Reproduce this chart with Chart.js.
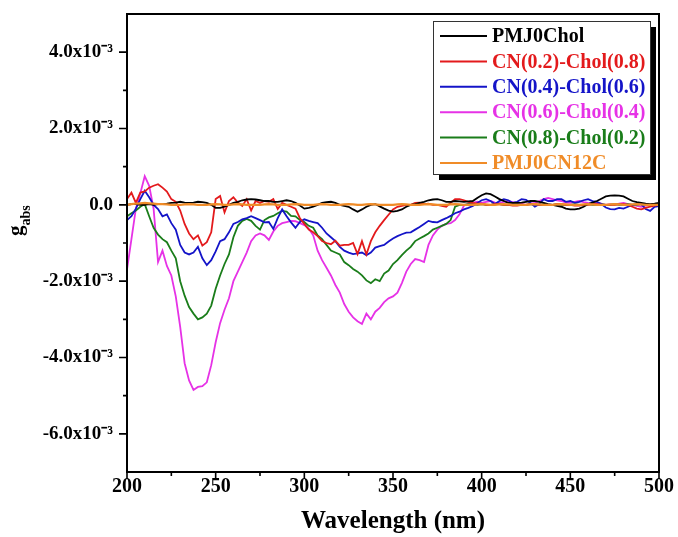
<!DOCTYPE html>
<html>
<head>
<meta charset="utf-8">
<script src="https://cdn.jsdelivr.net/npm/chart.js@4.4.1/dist/chart.umd.min.js"></script>
<style>
  html, body { margin: 0; padding: 0; background: #fff; }
  #wrap { width: 678px; height: 537px; }
</style>
</head>
<body>
<div id="wrap"><canvas id="gabsChart" width="678" height="537"></canvas></div>
<script>
// wavelength, nm
const wavelengths = [
  200, 202.5, 205, 207.5, 210, 212.5, 215, 217.5, 220, 222.5,
  225, 227.5, 230, 232.5, 235, 237.5, 240, 242.5, 245, 247.5,
  250, 252.5, 255, 257.5, 260, 262.5, 265, 267.5, 270, 272.5,
  275, 277.5, 280, 282.5, 285, 287.5, 290, 292.5, 295, 297.5,
  300, 302.5, 305, 307.5, 310, 312.5, 315, 317.5, 320, 322.5,
  325, 327.5, 330, 332.5, 335, 337.5, 340, 342.5, 345, 347.5,
  350, 352.5, 355, 357.5, 360, 362.5, 365, 367.5, 370, 372.5,
  375, 377.5, 380, 382.5, 385, 387.5, 390, 392.5, 395, 397.5,
  400, 402.5, 405, 407.5, 410, 412.5, 415, 417.5, 420, 422.5,
  425, 427.5, 430, 432.5, 435, 437.5, 440, 442.5, 445, 447.5,
  450, 452.5, 455, 457.5, 460, 462.5, 465, 467.5, 470, 472.5,
  475, 477.5, 480, 482.5, 485, 487.5, 490, 492.5, 495, 497.5,
  500
];

// g_abs values in units of 1e-3
const pmj0Chol = [
  0.00, 0.02, 0.02, 0.00, 0.00, 0.02, 0.00, 0.02, 0.02, 0.03,
  0.05, 0.06, 0.08, 0.06, 0.05, 0.06, 0.08, 0.07, 0.05, 0.00,
  -0.08, -0.08, -0.05, 0.00, 0.05, 0.08, 0.12, 0.14, 0.15, 0.14,
  0.12, 0.10, 0.10, 0.08, 0.08, 0.10, 0.12, 0.10, 0.05, -0.02,
  -0.10, -0.08, -0.05, 0.00, 0.05, 0.07, 0.08, 0.05, 0.00, -0.03,
  -0.05, -0.12, -0.18, -0.12, -0.05, 0.00, 0.02, -0.04, -0.10, -0.15,
  -0.18, -0.16, -0.12, -0.05, 0.00, 0.02, 0.05, 0.08, 0.12, 0.14,
  0.15, 0.12, 0.08, 0.08, 0.10, 0.09, 0.08, 0.09, 0.10, 0.18,
  0.25, 0.30, 0.28, 0.22, 0.15, 0.10, 0.05, 0.05, 0.05, 0.06,
  0.08, 0.10, 0.10, 0.08, 0.05, 0.02, 0.00, -0.03, -0.05, -0.10,
  -0.12, -0.12, -0.10, -0.05, 0.02, 0.06, 0.10, 0.16, 0.22, 0.24,
  0.25, 0.24, 0.22, 0.16, 0.10, 0.07, 0.05, 0.03, 0.02, 0.03,
  0.05
];
const cn02Chol08 = [
  0.15, 0.32, 0.05, 0.32, 0.35, 0.45, 0.50, 0.54, 0.45, 0.35,
  0.15, 0.08, -0.15, -0.50, -0.75, -0.90, -0.80, -1.07, -0.98, -0.72,
  0.15, 0.23, -0.20, 0.10, 0.20, 0.06, -0.03, 0.15, -0.15, 0.10,
  0.05, 0.10, 0.08, 0.15, -0.11, 0.05, 0.00, -0.05, -0.10, -0.35,
  -0.50, -0.65, -0.72, -0.82, -0.95, -1.00, -1.03, -0.94, -1.07, -1.05,
  -1.05, -1.00, -1.29, -0.95, -1.30, -0.95, -0.72, -0.55, -0.40, -0.26,
  -0.12, -0.05, -0.03, 0.00, 0.00, 0.05, 0.06, 0.02, 0.03, 0.00,
  0.00, -0.03, -0.05, 0.05, 0.15, 0.15, 0.12, 0.08, 0.05, 0.03,
  0.03, 0.00, 0.00, 0.02, 0.02, 0.00, 0.00, -0.02, -0.02, 0.00,
  0.00, 0.02, 0.02, 0.00, 0.00, 0.00, 0.00, 0.02, 0.02, 0.00,
  0.00, -0.02, -0.02, 0.00, 0.00, 0.02, 0.02, 0.00, 0.00, 0.00,
  0.00, 0.02, 0.02, 0.00, -0.05, -0.10, -0.12, -0.08, -0.05, -0.02,
  0.00
];
const cn04Chol06 = [
  -0.40, -0.30, -0.10, 0.15, 0.37, 0.20, 0.00, -0.11, -0.30, -0.25,
  -0.48, -0.65, -1.05, -1.25, -1.30, -1.25, -1.10, -1.40, -1.58, -1.45,
  -1.22, -0.95, -0.90, -0.72, -0.50, -0.45, -0.38, -0.35, -0.30, -0.35,
  -0.40, -0.46, -0.45, -0.63, -0.35, -0.12, -0.30, -0.46, -0.60, -0.45,
  -0.38, -0.42, -0.45, -0.48, -0.60, -0.75, -0.85, -0.95, -1.10, -1.20,
  -1.25, -1.29, -1.27, -1.25, -1.32, -1.25, -1.12, -1.08, -1.05, -0.96,
  -0.88, -0.82, -0.77, -0.73, -0.72, -0.65, -0.58, -0.50, -0.42, -0.45,
  -0.46, -0.40, -0.35, -0.29, -0.22, -0.18, -0.12, -0.08, -0.03, 0.05,
  0.12, 0.15, 0.10, 0.02, 0.10, 0.15, 0.12, 0.05, 0.08, 0.15,
  0.13, 0.05, -0.05, 0.02, 0.15, 0.10, 0.10, 0.15, 0.15, 0.08,
  0.10, 0.05, 0.08, 0.12, 0.15, 0.10, 0.08, 0.02, -0.07, -0.11,
  -0.12, -0.08, -0.10, -0.05, 0.00, 0.02, 0.02, -0.11, -0.16, -0.05,
  -0.03
];
const cn06Chol04 = [
  -1.70, -0.90, -0.10, 0.30, 0.75, 0.50, -0.10, -1.50, -1.20, -1.60,
  -1.85, -2.40, -3.20, -4.15, -4.60, -4.85, -4.77, -4.75, -4.65, -4.20,
  -3.60, -3.10, -2.75, -2.45, -2.00, -1.75, -1.50, -1.25, -0.95, -0.80,
  -0.75, -0.80, -0.92, -0.70, -0.55, -0.48, -0.45, -0.42, -0.43, -0.48,
  -0.53, -0.62, -0.80, -1.20, -1.45, -1.65, -1.85, -2.10, -2.30, -2.60,
  -2.80, -2.95, -3.05, -3.12, -2.85, -3.00, -2.80, -2.70, -2.55, -2.45,
  -2.40, -2.30, -2.05, -1.75, -1.55, -1.42, -1.45, -1.50, -1.05, -0.80,
  -0.65, -0.55, -0.50, -0.48, -0.40, -0.25, -0.02, 0.03, 0.05, 0.08,
  0.05, 0.08, 0.10, 0.06, 0.05, 0.08, 0.10, 0.07, 0.05, 0.03,
  0.00, 0.03, 0.05, 0.10, 0.15, 0.18, 0.15, 0.12, 0.10, 0.06,
  0.05, 0.08, 0.10, 0.07, 0.05, 0.04, 0.05, 0.03, 0.00, 0.02,
  0.00, 0.03, 0.05, 0.02, 0.00, -0.03, -0.05, -0.02, 0.00, 0.02,
  0.00
];
const cn08Chol02 = [
  -0.30, -0.22, -0.15, -0.05, 0.02, -0.30, -0.60, -0.78, -0.90, -0.98,
  -1.20, -1.40, -2.00, -2.38, -2.68, -2.85, -3.00, -2.95, -2.85, -2.64,
  -2.20, -1.85, -1.55, -1.30, -0.85, -0.55, -0.42, -0.37, -0.42, -0.55,
  -0.65, -0.40, -0.33, -0.29, -0.22, -0.16, -0.18, -0.29, -0.30, -0.40,
  -0.45, -0.55, -0.60, -0.80, -0.90, -1.05, -1.20, -1.25, -1.30, -1.50,
  -1.58, -1.68, -1.75, -1.85, -1.98, -2.05, -1.95, -2.00, -1.80, -1.72,
  -1.55, -1.45, -1.32, -1.20, -1.10, -0.95, -0.88, -0.82, -0.75, -0.65,
  -0.60, -0.55, -0.50, -0.40, -0.05, 0.00, 0.00, 0.02, 0.02, 0.00,
  0.02, 0.00, 0.00, 0.02, 0.02, 0.00, 0.00, 0.02, 0.02, 0.00,
  0.00, 0.02, 0.00, 0.00, 0.02, 0.00, 0.00, 0.02, 0.00, 0.00,
  0.00, 0.02, 0.00, 0.00, 0.02, 0.00, 0.00, 0.02, 0.00, 0.00,
  0.02, 0.00, 0.00, 0.02, 0.00, 0.00, 0.02, 0.00, 0.00, 0.02,
  0.00
];
const pmj0CN12C = [
  0.00, 0.02, 0.03, 0.04, 0.05, 0.04, 0.03, 0.02, 0.02, 0.01,
  0.00, 0.00, 0.00, 0.01, 0.02, 0.01, 0.00, 0.00, 0.00, 0.01,
  0.02, 0.01, 0.00, 0.00, 0.01, 0.02, 0.01, 0.00, 0.00, 0.00,
  0.00, 0.01, 0.02, 0.01, 0.00, 0.00, 0.00, 0.01, 0.02, 0.01,
  0.00, 0.00, 0.00, 0.01, 0.02, 0.01, 0.00, 0.00, 0.00, 0.01,
  0.02, 0.01, 0.00, 0.00, 0.01, 0.02, 0.01, 0.00, 0.00, 0.00,
  0.00, 0.01, 0.02, 0.01, 0.00, 0.00, 0.00, 0.01, 0.02, 0.01,
  0.00, 0.00, 0.00, 0.01, 0.02, 0.01, 0.00, 0.00, 0.00, 0.01,
  0.02, 0.01, 0.00, 0.00, 0.01, 0.02, 0.01, 0.00, 0.00, 0.00,
  0.00, 0.01, 0.02, 0.01, 0.00, 0.00, 0.00, 0.01, 0.02, 0.01,
  0.00, 0.00, 0.00, 0.01, 0.02, 0.01, 0.00, 0.00, 0.00, 0.01,
  0.02, 0.01, 0.00, 0.00, 0.01, 0.02, 0.01, 0.00, 0.00, 0.00,
  0.00
];

const seriesNames = ['PMJ0Chol', 'CN(0.2)-Chol(0.8)', 'CN(0.4)-Chol(0.6)', 'CN(0.6)-Chol(0.4)', 'CN(0.8)-Chol(0.2)', 'PMJ0CN12C'];
const seriesValues = [pmj0Chol, cn02Chol08, cn04Chol06, cn06Chol04, cn08Chol02, pmj0CN12C];
const seriesColors = ['#000000', '#e31a1c', '#1414c8', '#e632e6', '#1a7d1a', '#f08c28'];
// lower order is drawn on top
const seriesOrder = [1, 2, 3, 5, 4, 0];

const xTicks = [200, 250, 300, 350, 400, 450, 500];
const xMinorTicks = [225, 275, 325, 375, 425, 475];
const yTicks = [-6, -4, -2, 0, 2, 4];
const yMinorTicks = [-5, -3, -1, 1, 3];

const serif = "'Liberation Serif', 'Times New Roman', serif";

// рамка, засечки, легенда и подпись оси Y
const decorPlugin = {
    id: 'decor',
    afterDatasetsDraw(chart) {
        const ctx = chart.ctx;
        const a = chart.chartArea;
        const xs = chart.scales.x;
        const ys = chart.scales.y;
        ctx.save();
        ctx.strokeStyle = '#000';
        ctx.lineWidth = 2;
        ctx.strokeRect(a.left, a.top, a.right - a.left, a.bottom - a.top);

        ctx.lineWidth = 1.6;
        ctx.beginPath();
        yTicks.forEach(v => { const y = ys.getPixelForValue(v); ctx.moveTo(a.left - 8, y); ctx.lineTo(a.left, y); });
        yMinorTicks.forEach(v => { const y = ys.getPixelForValue(v); ctx.moveTo(a.left - 4, y); ctx.lineTo(a.left, y); });
        xTicks.forEach(v => { const x = xs.getPixelForValue(v); ctx.moveTo(x, a.bottom); ctx.lineTo(x, a.bottom + 7); });
        xMinorTicks.forEach(v => { const x = xs.getPixelForValue(v); ctx.moveTo(x, a.bottom); ctx.lineTo(x, a.bottom + 4); });
        ctx.stroke();

        // легенда с тенью
        const bx = a.right - 226, by = a.top + 7, bw = 217, bh = 153;
        ctx.fillStyle = '#000';
        ctx.fillRect(bx + 6, by + 6, bw, bh);
        ctx.fillStyle = '#fff';
        ctx.fillRect(bx, by, bw, bh);
        ctx.lineWidth = 1;
        ctx.strokeStyle = '#333';
        ctx.strokeRect(bx + 0.5, by + 0.5, bw, bh);
        ctx.font = 'bold 20px ' + serif;
        ctx.textBaseline = 'middle';
        ctx.textAlign = 'left';
        seriesNames.forEach((name, i) => {
            const y = by + 15 + i * 25.4;
            ctx.strokeStyle = seriesColors[i];
            ctx.lineWidth = 2;
            ctx.beginPath();
            ctx.moveTo(bx + 7, y);
            ctx.lineTo(bx + 54, y);
            ctx.stroke();
            ctx.fillStyle = seriesColors[i];
            ctx.fillText(name, bx + 59, y + 1);
        });

        // g_abs
        ctx.translate(22, 236);
        ctx.rotate(-Math.PI / 2);
        ctx.fillStyle = '#000';
        ctx.textBaseline = 'alphabetic';
        ctx.font = 'bold 21px ' + serif;
        ctx.fillText('g', 0, 0);
        const gw = ctx.measureText('g').width;
        ctx.font = 'bold 14px ' + serif;
        ctx.fillText('abs', gw, 8);
        ctx.restore();
    }
};

const ctx = document.getElementById('gabsChart').getContext('2d');

new Chart(ctx, {
    type: 'line',
    data: {
        datasets: seriesNames.map((name, i) => ({
            label: name,
            data: wavelengths.map((w, k) => ({ x: w, y: seriesValues[i][k] })),
            borderColor: seriesColors[i],
            borderWidth: i === 5 ? 2.2 : 1.8,
            pointRadius: 0,
            tension: 0,
            fill: false,
            order: seriesOrder[i]
        }))
    },
    options: {
        responsive: false,
        animation: false,
        devicePixelRatio: 1,
        layout: { padding: { top: 14, right: 19, left: 0, bottom: 0 } },
        plugins: {
            legend: { display: false },
            tooltip: { enabled: false }
        },
        scales: {
            x: {
                type: 'linear',
                min: 200,
                max: 500,
                afterBuildTicks: s => { s.ticks = xTicks.map(v => ({ value: v })); },
                afterFit: s => {
                    s.height = 65;
                    s.paddingLeft = 0;
                    s.paddingRight = 0;
                },
                grid: { display: false, drawTicks: false },
                border: { display: false },
                ticks: {
                    color: '#000',
                    padding: 3,
                    maxRotation: 0,
                    font: { family: serif, size: 20, weight: 'bold' }
                },
                title: {
                    display: true,
                    text: 'Wavelength (nm)',
                    color: '#000',
                    padding: { top: 0, bottom: 0 },
                    font: { family: serif, size: 25, weight: 'bold' }
                }
            },
            y: {
                min: -7,
                max: 5,
                afterBuildTicks: s => { s.ticks = yTicks.map(v => ({ value: v })); },
                afterFit: s => {
                    s.width = 127;
                    s.paddingTop = 0;
                    s.paddingBottom = 0;
                },
                grid: { display: false, drawTicks: false },
                border: { display: false },
                ticks: {
                    color: '#000',
                    padding: 14,
                    font: { family: serif, size: 19, weight: 'bold' },
                    callback: v => v === 0 ? '0.0' : v.toFixed(1) + 'x10\u207B\u00B3'
                }
            }
        }
    },
    plugins: [decorPlugin]
});
</script>
</body>
</html>
